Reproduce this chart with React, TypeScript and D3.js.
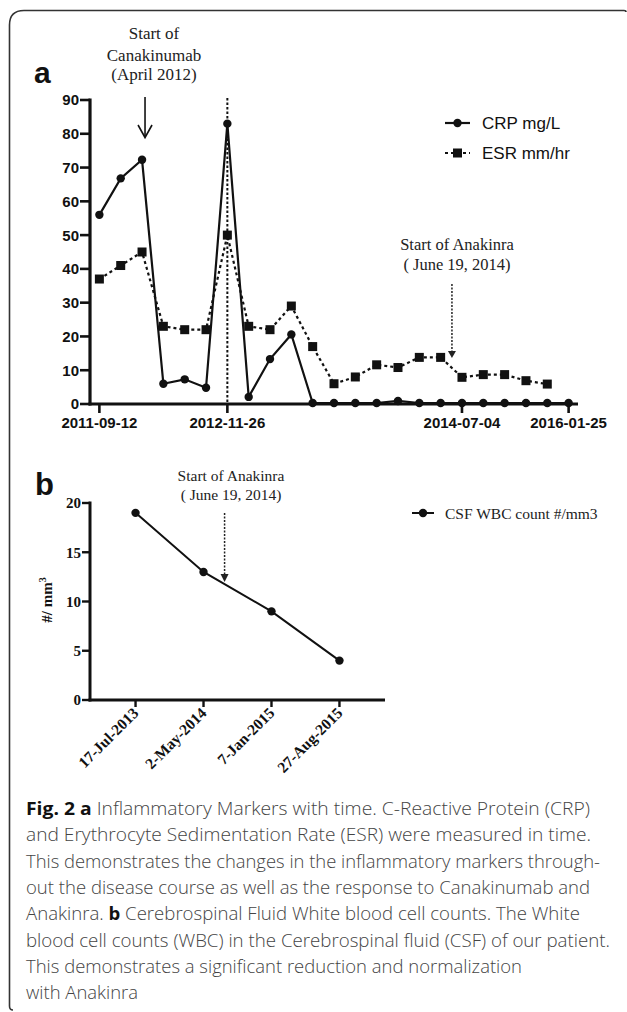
import React from "react";
import * as d3 from "d3";

// ---------- Panel a data ----------
const crpValues = [56, 66.8, 72.3, 6, 7.3, 4.8, 83, 2.1, 13.3, 20.6, 0.3, 0.3, 0.3, 0.3, 0.9, 0.3, 0.3, 0.3, 0.3, 0.3, 0.3, 0.3, 0.3];
const esrValues = [37, 41, 45, 23, 22, 22, 50, 23, 22, 29, 17, 6, 8, 11.6, 10.8, 13.8, 13.8, 7.9, 8.7, 8.7, 6.9, 5.9];
const aTickIndices = [0, 6, 17, 22];
const aTickLabels = ["2011-09-12", "2012-11-26", "2014-07-04", "2016-01-25"];
const aYTicks = [0, 10, 20, 30, 40, 50, 60, 70, 80, 90];
const seriesNames = ["CRP mg/L", "ESR mm/hr"];
const canakinumabIndex = 2.14;
const canakinumabLineIndex = 6;
const anakinraIndexA = 16.53;

// ---------- Panel b data ----------
const csfDates = ["17-Jul-2013", "2-May-2014", "7-Jan-2015", "27-Aug-2015"];
const csfValues = [19, 13, 9, 4];
const bYTicks = [0, 5, 10, 15, 20];
const csfName = "CSF WBC count #/mm3";
const anakinraIndexB = 1.31;

// ---------- Caption ----------
const captionLines: { parts: { t: string; b?: boolean }[]; w: number }[] = [
  { parts: [{ t: "Fig. 2", b: true }, { t: " " }, { t: "a", b: true }, { t: " Inflammatory Markers with time. C-Reactive Protein (CRP)" }], w: 564 },
  { parts: [{ t: "and Erythrocyte Sedimentation Rate (ESR) were measured in time." }], w: 565 },
  { parts: [{ t: "This demonstrates the changes in the inflammatory markers through-" }], w: 574 },
  { parts: [{ t: "out the disease course as well as the response to Canakinumab and" }], w: 564 },
  { parts: [{ t: "Anakinra. " }, { t: "b", b: true }, { t: " Cerebrospinal Fluid White blood cell counts. The White" }], w: 554 },
  { parts: [{ t: "blood cell counts (WBC) in the Cerebrospinal fluid (CSF) of our patient." }], w: 584 },
  { parts: [{ t: "This demonstrates a significant reduction and normalization" }], w: 496 },
  { parts: [{ t: "with Anakinra" }], w: 112 },
];

const SANS = "'Liberation Sans', Arial, sans-serif";
const SERIF = "'Liberation Serif', 'Times New Roman', serif";

export default function App() {
  // Panel a scales
  const xA = d3.scaleLinear().domain([-0.44, 22.44]).range([90, 578]);
  const yA = d3.scaleLinear().domain([0, 90]).range([404, 100]);
  const crpLine = d3.line<number>().x((_, i) => xA(i)).y((d) => yA(d));
  const esrLine = d3.line<number>().x((_, i) => xA(i)).y((d) => yA(d));

  // Panel b scales
  const xB = d3.scaleLinear().domain([-0.67, 3.67]).range([90, 385]);
  const yB = d3.scaleLinear().domain([0, 20]).range([700, 503]);
  const csfLine = d3.line<number>().x((_, i) => xB(i)).y((d) => yB(d));

  const sq = 9;
  const cr = 4.2;

  const cx = xA(canakinumabIndex);
  const ax = xA(anakinraIndexA);
  const bx = xB(anakinraIndexB);

  return (
    <svg width={627} height={1012} style={{ position: "absolute", left: 0, top: 0, background: "#fff" }}>
      {/* frame */}
      <path d="M 9.5 1006 Q 9.5 1010 13 1010 M 9.5 1006 L 9.5 25 Q 9.5 10.5 24 10.5 L 624 10.5 Q 626 10.5 626 12" fill="none" stroke="#333" strokeWidth={1.6} />

      {/* ===== Panel a ===== */}
      <text x={34} y={83} fontFamily={SANS} fontWeight="bold" fontSize={30} fill="#111">a</text>

      <g fontFamily={SERIF} fontSize={17} fill="#222" textAnchor="middle">
        <text x={154} y={39}>Start of</text>
        <text x={154} y={61}>Canakinumab</text>
        <text x={154} y={80}>(April 2012)</text>
      </g>
      <line x1={cx} x2={cx} y1={97} y2={137} stroke="#111" strokeWidth={1.6} />
      <polyline points={`${cx - 7},${125} ${cx},${137.5} ${cx + 7},${125}`} fill="none" stroke="#111" strokeWidth={1.6} />

      <line x1={xA(canakinumabLineIndex)} x2={xA(canakinumabLineIndex)} y1={98} y2={yA(0)} stroke="#111" strokeWidth={2} strokeDasharray="2.5,2" />

      <g fontFamily={SERIF} fontSize={16.5} fill="#222" textAnchor="middle">
        <text x={457} y={250}>Start of Anakinra</text>
        <text x={457} y={270}>( June 19, 2014)</text>
      </g>
      <line x1={ax} x2={ax} y1={284} y2={352} stroke="#222" strokeWidth={1.5} strokeDasharray="2,1.5" />
      <polygon points={`${ax - 4},${351} ${ax + 4},${351} ${ax},${358}`} fill="#222" />

      <path d={esrLine(esrValues) || ""} fill="none" stroke="#111" strokeWidth={2.2} strokeDasharray="3,3" />
      <path d={crpLine(crpValues) || ""} fill="none" stroke="#111" strokeWidth={2.2} />

      <g stroke="#111" strokeWidth={3.2}>
        <line x1={90} x2={90} y1={yA(90) - 1.5} y2={yA(0) + 1.5} />
        <line x1={88.5} x2={578} y1={yA(0)} y2={yA(0)} />
      </g>
      {aYTicks.map((t) => (
        <g key={t}>
          <line x1={80} x2={90} y1={yA(t)} y2={yA(t)} stroke="#111" strokeWidth={2.6} />
          <text x={79} y={yA(t)} dy="0.36em" textAnchor="end" fontFamily={SANS} fontWeight="bold" fontSize={15} fill="#111">{t}</text>
        </g>
      ))}
      {aTickIndices.map((ti, k) => (
        <g key={ti}>
          <line x1={xA(ti)} x2={xA(ti)} y1={yA(0)} y2={yA(0) + 9} stroke="#111" strokeWidth={2.6} />
          <text x={xA(ti)} y={428} textAnchor="middle" fontFamily={SANS} fontWeight="bold" fontSize={15} fill="#111">{aTickLabels[k]}</text>
        </g>
      ))}

      {esrValues.map((v, i) => (
        <rect key={"e" + i} x={xA(i) - sq / 2} y={yA(v) - sq / 2} width={sq} height={sq} fill="#111" />
      ))}
      {crpValues.map((v, i) => (
        <circle key={"c" + i} cx={xA(i)} cy={yA(v)} r={cr} fill="#111" />
      ))}

      <line x1={445} x2={470} y1={123} y2={123} stroke="#111" strokeWidth={2.2} />
      <circle cx={457.5} cy={123} r={cr} fill="#111" />
      <text x={482} y={123} dy="0.36em" fontFamily={SANS} fontSize={17} fill="#111">{seriesNames[0]}</text>
      <line x1={445} x2={470} y1={153} y2={153} stroke="#111" strokeWidth={2.2} strokeDasharray="3,3" />
      <rect x={457.5 - sq / 2} y={153 - sq / 2} width={sq} height={sq} fill="#111" />
      <text x={482} y={153} dy="0.36em" fontFamily={SANS} fontSize={17} fill="#111">{seriesNames[1]}</text>

      {/* ===== Panel b ===== */}
      <text x={35} y={495} fontFamily={SANS} fontWeight="bold" fontSize={31} fill="#111">b</text>

      <g fontFamily={SERIF} fontSize={15.5} fill="#222" textAnchor="middle">
        <text x={231} y={481}>Start of Anakinra</text>
        <text x={231} y={500}>( June 19, 2014)</text>
      </g>
      <line x1={bx} x2={bx} y1={513} y2={575} stroke="#222" strokeWidth={1.5} strokeDasharray="2,1.5" />
      <polygon points={`${bx - 4},${574} ${bx + 4},${574} ${bx},${582}`} fill="#222" />

      <path d={csfLine(csfValues) || ""} fill="none" stroke="#111" strokeWidth={2} />

      <g stroke="#111" strokeWidth={3}>
        <line x1={90} x2={90} y1={yB(20) - 1.5} y2={yB(0) + 1.5} />
        <line x1={88.5} x2={385} y1={yB(0)} y2={yB(0)} />
      </g>
      {bYTicks.map((t) => (
        <g key={t}>
          <line x1={82} x2={90} y1={yB(t)} y2={yB(t)} stroke="#111" strokeWidth={2.4} />
          <text x={81} y={yB(t)} dy="0.36em" textAnchor="end" fontFamily={SERIF} fontWeight="bold" fontSize={15} fill="#111">{t}</text>
        </g>
      ))}
      {csfDates.map((d, i) => (
        <g key={d}>
          <line x1={xB(i)} x2={xB(i)} y1={yB(0)} y2={yB(0) + 7} stroke="#111" strokeWidth={2.4} />
          <text transform={`translate(${xB(i) + 4},${yB(0) + 14}) rotate(-45)`} textAnchor="end" fontFamily={SERIF} fontWeight="bold" fontSize={15.5} fill="#111">{d}</text>
        </g>
      ))}
      {csfValues.map((v, i) => (
        <circle key={"b" + i} cx={xB(i)} cy={yB(v)} r={cr} fill="#111" />
      ))}

      <text transform="translate(52,600) rotate(-90)" textAnchor="middle" fontFamily={SERIF} fontWeight="bold" fontSize={15} fill="#111">
        #/ mm<tspan dy="-6" fontSize={10}>3</tspan>
      </text>

      <line x1={412} x2={434} y1={513} y2={513} stroke="#111" strokeWidth={2} />
      <circle cx={423} cy={513} r={cr} fill="#111" />
      <text x={445} y={513} dy="0.36em" fontFamily={SERIF} fontSize={15.5} fill="#222">{csfName}</text>

      {/* ===== Caption ===== */}
      <g fontFamily="'Open Sans', 'Noto Sans', sans-serif" fontSize={18.5} fill="#444">
        {captionLines.map((ln, i) => (
          <text key={i} x={26} y={815 + i * 26.3} textLength={ln.w} lengthAdjust="spacingAndGlyphs">
            {ln.parts.map((p, j) => (
              <tspan key={j} fontWeight={p.b ? 700 : 300} fill={p.b ? "#111" : "#444"}>{p.t}</tspan>
            ))}
          </text>
        ))}
      </g>
    </svg>
  );
}
